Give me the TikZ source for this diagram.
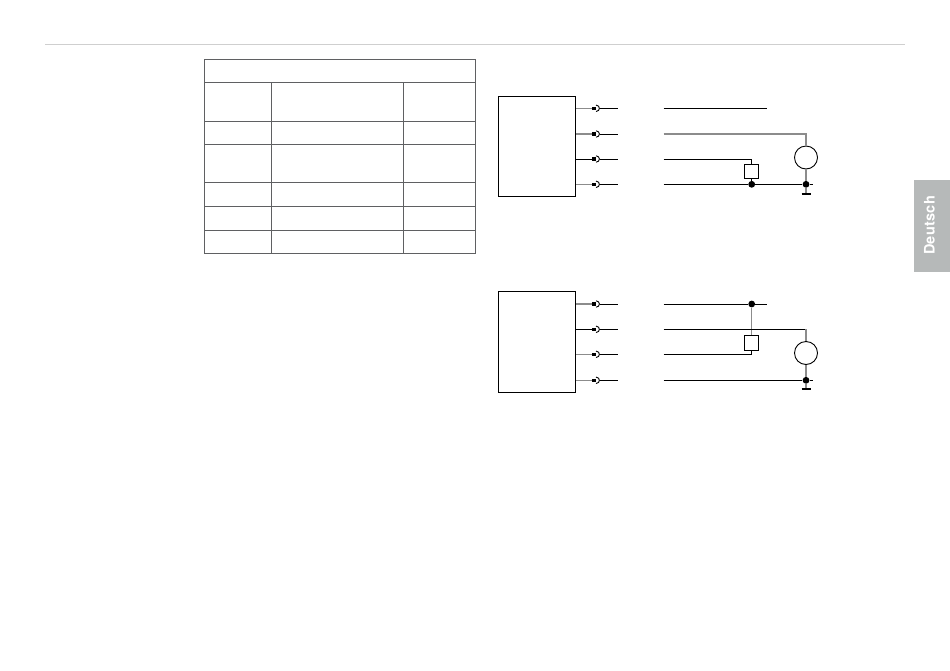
\documentclass[tikz,border=0pt]{standalone}
\usepackage{fontspec}
\setmainfont{TeX Gyre Heros}
\definecolor{wiregray}{HTML}{8C8C8C}
\definecolor{rulegray}{HTML}{5F6062}
\definecolor{tabgray}{HTML}{B6B9B9}
\definecolor{headgray}{HTML}{CFCFCF}
\tikzset{
	unit/.style={draw,line width=0.9pt,inner sep=0pt,minimum width=77.4,minimum height=100},
	relay/.style={draw,line width=0.9pt,inner sep=0pt,minimum size=14.4},
	meter/.style={draw,circle,line width=0.9pt,inner sep=0pt,minimum size=23},
	pin/.style={fill=black,inner sep=0pt,minimum size=3.6},
	joint/.style={fill=black,circle,inner sep=0pt,minimum size=6.8},
	wire/.style={line width=0.9pt},
	graywire/.style={line width=1.4pt,draw=wiregray},
	cell/.style={line width=0.9pt,draw=rulegray},
}
\begin{document}
\begin{tikzpicture}[x=1pt,y=-1pt]
	\useasboundingbox (0,0) rectangle (950,670);

	% top rule and language tab
	\coordinate (ruleA) at (45,44.3);
	\coordinate (ruleB) at (905,44.3);
	\draw[line width=0.9pt,draw=headgray] (ruleA) -- (ruleB);
	\fill[tabgray] (913.5,180) rectangle (950,272);
	\node[rotate=90,text=white,font=\fontsize{14.5}{15}\bfseries\addfontfeature{LetterSpace=2}] (tab) at (929.5,225.5) {Deutsch};

	% table
	\draw[cell] (204.3,59.3) rectangle (475.7,253.3);
	\foreach \y in {82.3,121,144.3,182.3,206.3,230.3}
		\draw[cell] (204.3,\y) -- (475.7,\y);
	\foreach \x in {271.3,403.3}
		\draw[cell] (\x,82.3) -- (\x,253.3);

	% upper circuit
	\node[unit] (unitA) at (537,146.3) {};
	\foreach \n/\y/\c in {1/108.3/graywire,2/134/graywire,3/159/wire,4/184.3/graywire} {
		\node[pin] (pinA\n) at (593.7,\y) {};
		\coordinate (plugA\n) at (599.5,\y);
		\coordinate (endA\n) at (618.3,\y);
		\coordinate (startA\n) at (663.7,\y);
		\draw[\c] (unitA.east |- pinA\n) -- (pinA\n);
		\draw[wire] (596,\y-3.2) .. controls (600.5,\y-3) and (600.5,\y+3) .. (596,\y+3.2);
		\draw[wire] (plugA\n) -- (endA\n);
	}
	\coordinate (freeA) at (766.7,108.3);
	\draw[wire] (startA1) -- (freeA);
	\node[meter] (meterA) at (806,157.5) {};
	\node[relay] (relayA) at (751.7,171.5) {};
	\node[joint] (jointA) at (751.7,184.3) {};
	\node[joint] (groundA) at (806,184.3) {};
	\coordinate (tailA) at (812.5,184.3);
	\coordinate (barA) at (806,194);
	\draw[graywire] (startA2) -| (meterA.north);
	\draw[wire] (startA3) -| (relayA.north);
	\draw[wire] (startA4) -- (jointA) -- (groundA) -- (tailA);
	\draw[wire] (relayA) -- (jointA);
	\draw[graywire] (meterA) -- (groundA);
	\draw[graywire] (groundA) -- (barA);
	\draw[wire,line width=1.2pt] ([xshift=-4.5]barA) -- ([xshift=4.5]barA);

	% lower circuit
	\node[unit,minimum height=100.7] (unitB) at (537,341.7) {};
	\foreach \n/\y/\c in {1/304/graywire,2/329.3/wire,3/354.3/graywire,4/380.3/graywire} {
		\node[pin] (pinB\n) at (593.7,\y) {};
		\coordinate (plugB\n) at (599.5,\y);
		\coordinate (endB\n) at (618.3,\y);
		\coordinate (startB\n) at (663.7,\y);
		\draw[\c] (unitB.east |- pinB\n) -- (pinB\n);
		\draw[wire] (596,\y-3.2) .. controls (600.5,\y-3) and (600.5,\y+3) .. (596,\y+3.2);
		\draw[wire] (plugB\n) -- (endB\n);
	}
	\coordinate (freeB) at (766.7,304);
	\coordinate (branchB) at (806,329.3);
	\node[joint] (jointB) at (751.7,304) {};
	\node[relay] (relayB) at (751.7,343) {};
	\node[meter] (meterB) at (806,353) {};
	\node[joint] (groundB) at (806,380.3) {};
	\coordinate (tailB) at (812.5,380.3);
	\coordinate (barB) at (806,389);
	\draw[wire] (startB1) -- (jointB) -- (freeB);
	\draw[graywire] (jointB) -- (relayB);
	\draw[wire] (startB2) -- (branchB);
	\draw[graywire] (branchB) -- (meterB.north);
	\draw[wire] (startB3) -| (relayB.south);
	\draw[wire] (startB4) -- (groundB) -- (tailB);
	\draw[graywire] (meterB) -- (groundB);
	\draw[graywire] (groundB) -- (barB);
	\draw[wire,line width=1.2pt] ([xshift=-4.5]barB) -- ([xshift=4.5]barB);
\end{tikzpicture}
\end{document}
